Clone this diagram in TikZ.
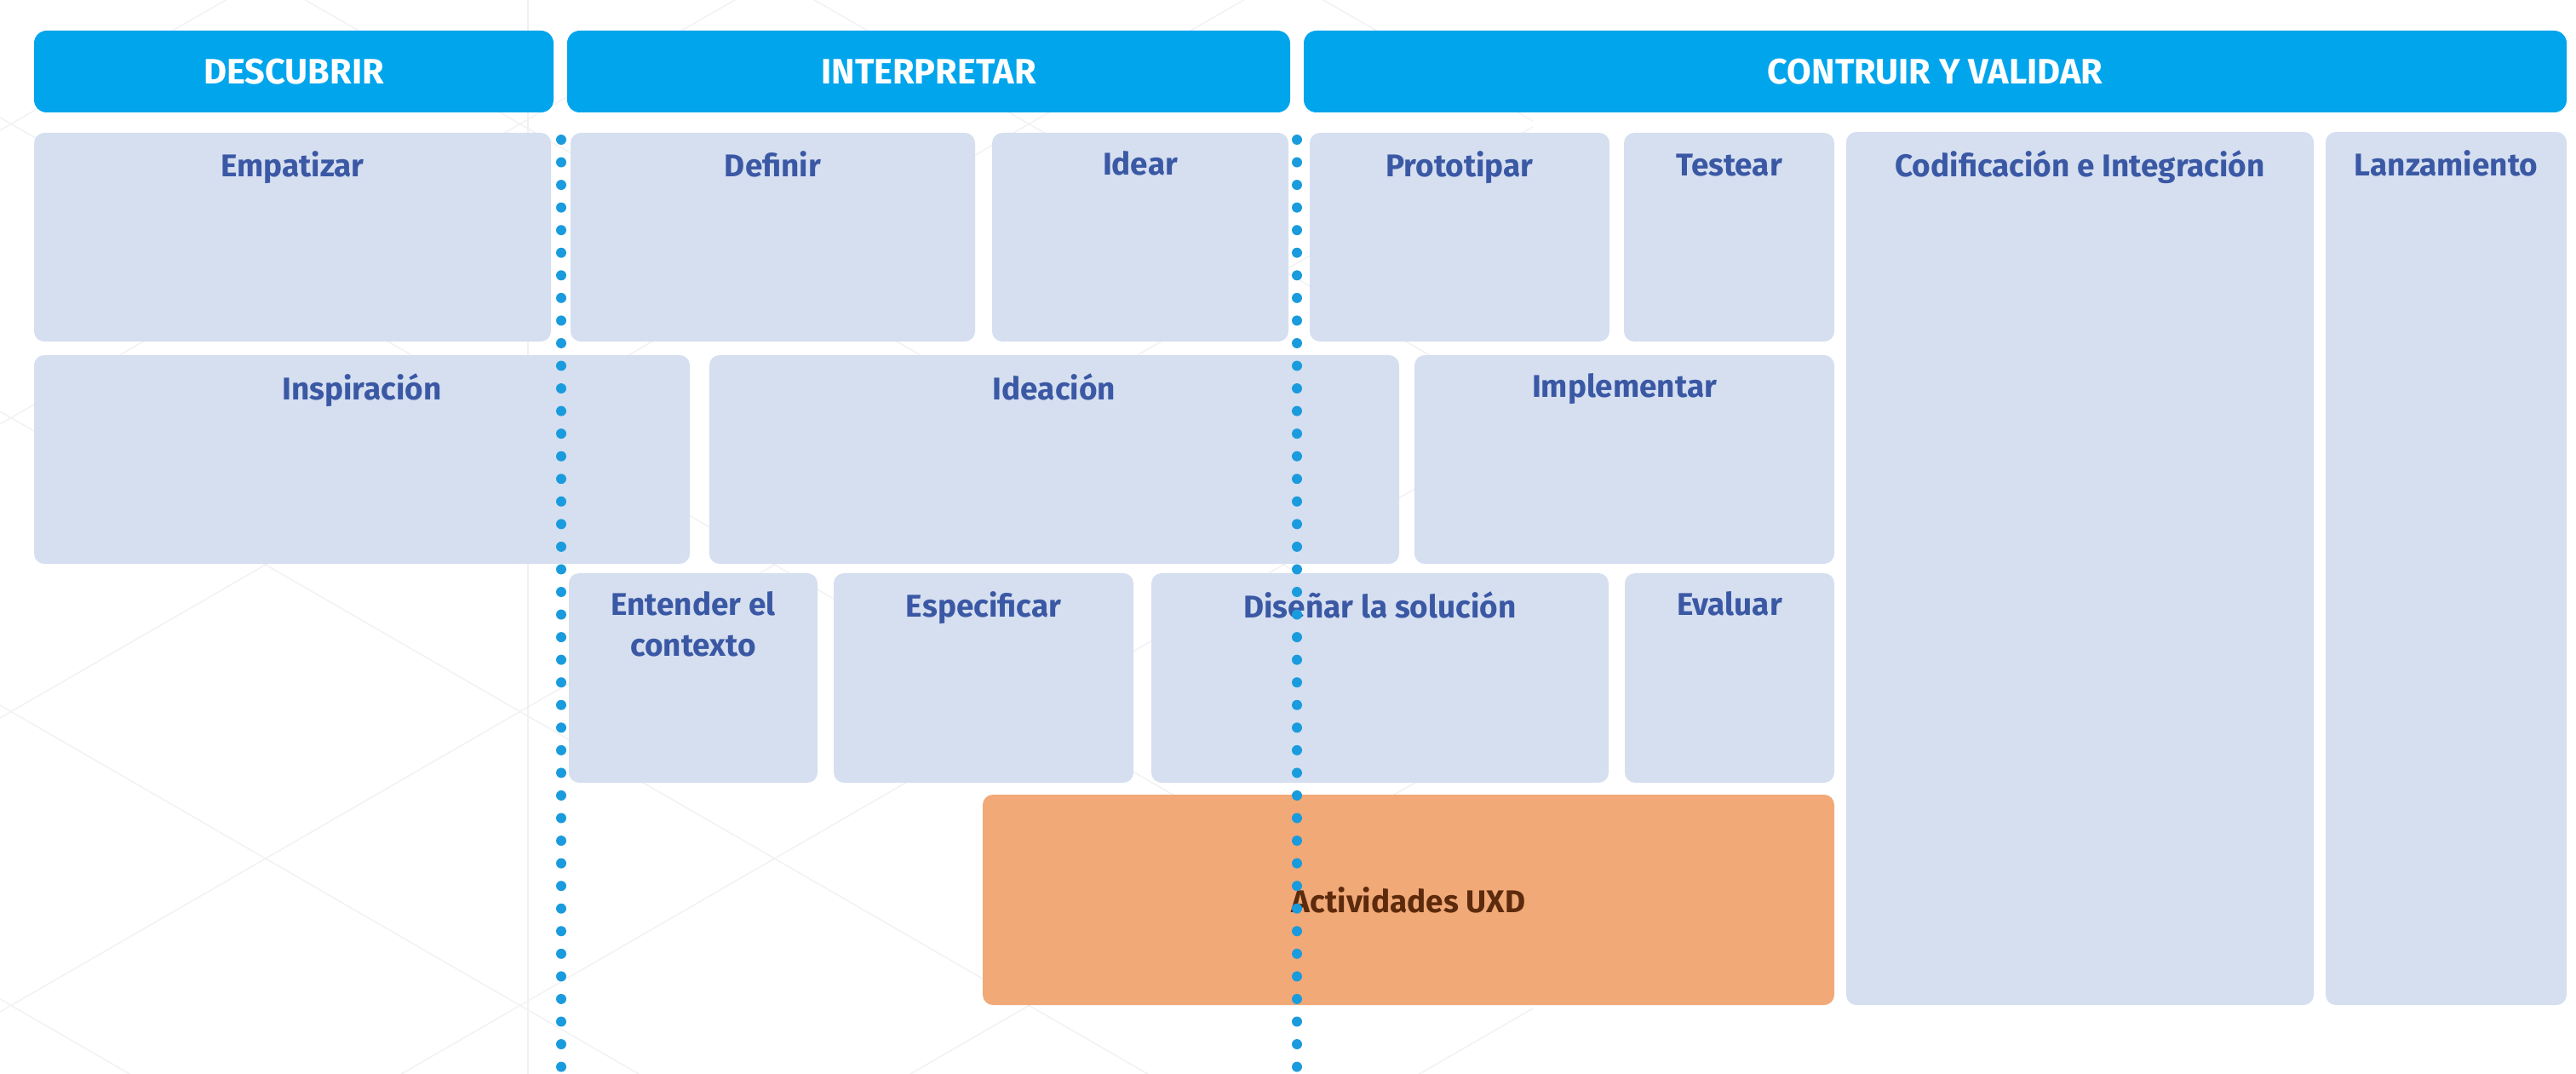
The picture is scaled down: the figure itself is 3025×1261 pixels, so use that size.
\documentclass[tikz,border=0pt]{standalone}
\usepackage{fontspec}
\setmainfont{Fira Sans}

\definecolor{phaseblue}{HTML}{00A5EC}
\definecolor{cardfill}{HTML}{D5DFF0}
\definecolor{cardtext}{HTML}{3A58A4}
\definecolor{uxdfill}{HTML}{F1A977}
\definecolor{uxdtext}{HTML}{5C2A0C}
\definecolor{dotblue}{HTML}{1A9BDD}
\definecolor{wireline}{HTML}{F1F1F3}

\tikzset{
  phase/.style = {fill = phaseblue, rounded corners = 4.2pt},
  phaselabel/.style = {text = white, inner sep = 0pt,
    font = \bfseries\fontsize{11.8}{14}\selectfont},
  card/.style = {fill = cardfill, rounded corners = 3.4pt},
  cardlabel/.style = {anchor = north, inner sep = 0pt, align = center,
    text = cardtext, font = \bfseries\fontsize{10.5}{13.7}\selectfont},
  uxd/.style = {fill = uxdfill, rounded corners = 3.4pt},
  wire/.style = {draw = wireline, line width = 0.4pt},
  cutline/.style = {draw = dotblue, line width = 3.4pt, line cap = round,
    dash pattern = on 0pt off 7.55pt}
}

\begin{document}
\begin{tikzpicture}[x = 0.01cm, y = -0.01cm]
  % frame
  % -----
  \useasboundingbox (0, 0) rectangle (3025, 1261);

  % wire background
  % ---------------
  \begin{scope}
    \clip (0, 0) rectangle (1800, 1261);
    \foreach \b in {-897, -552, -207, 138, 483, 828, 1173}
      \draw [wire] (0, \b) -- (1800, \b + 1039);
    \foreach \b in {153, 498, 843, 1188, 1533, 1878, 2223}
      \draw [wire] (0, \b) -- (1800, \b - 1039);
    \draw [wire] (620, 0) -- (620, 1261);
  \end{scope}

  % phases
  % ------
  \fill [phase] (40, 36) rectangle (650, 132);
  \node [phaselabel] (descubrir) at (345, 84) {DESCUBRIR};
  \fill [phase] (666, 36) rectangle (1515, 132);
  \node [phaselabel] (interpretar) at (1090.5, 84) {INTERPRETAR};
  \fill [phase] (1531, 36) rectangle (3014, 132);
  \node [phaselabel] (construir) at (2272.5, 84) {CONTRUIR Y VALIDAR};

  % first row
  % ---------
  \fill [card] (40, 156) rectangle (647, 401);
  \node [cardlabel] (empatizar) at (343.5, 177) {Empatizar};
  \fill [card] (670, 156) rectangle (1145, 401);
  \node [cardlabel] (definir) at (907.5, 177) {Definir};
  \fill [card] (1165, 156) rectangle (1513, 401);
  \node [cardlabel] (idear) at (1339, 177) {Idear};
  \fill [card] (1538, 156) rectangle (1890, 401);
  \node [cardlabel] (prototipar) at (1714, 177) {Prototipar};
  \fill [card] (1907, 156) rectangle (2154, 401);
  \node [cardlabel] (testear) at (2030.5, 180) {Testear};

  % tall columns
  % ------------
  \fill [card] (2168, 155) rectangle (2717, 1180);
  \node [cardlabel] (codificacion) at (2442.5, 176) {Codificación e Integración};
  \fill [card] (2731, 155) rectangle (3014, 1180);
  \node [cardlabel] (lanzamiento) at (2872.5, 176) {Lanzamiento};

  % second row
  % ----------
  \fill [card] (40, 417) rectangle (810, 662);
  \node [cardlabel] (inspiracion) at (425, 438) {Inspiración};
  \fill [card] (833, 417) rectangle (1643, 662);
  \node [cardlabel] (ideacion) at (1238, 438) {Ideación};
  \fill [card] (1661, 417) rectangle (2154, 662);
  \node [cardlabel] (implementar) at (1907.5, 438) {Implementar};

  % third row
  % ---------
  \fill [card] (668, 673) rectangle (960, 919);
  \node [cardlabel] (entender) at (814, 694) {Entender el\\contexto};
  \fill [card] (979, 673) rectangle (1331, 919);
  \node [cardlabel] (especificar) at (1155, 694) {Especificar};
  \fill [card] (1352, 673) rectangle (1889, 919);
  \node [cardlabel] (disenar) at (1620.5, 694) {Diseñar la solución};
  \fill [card] (1908, 673) rectangle (2154, 919);
  \node [cardlabel] (evaluar) at (2031, 694) {Evaluar};

  % activities
  % ----------
  \fill [uxd] (1154, 933) rectangle (2154, 1180);
  \node [cardlabel, anchor = center, text = uxdtext] (actividades) at (1654, 1057) {Actividades UXD};

  % phase cuts
  % ----------
  \coordinate (cutAtop) at (659, 164);
  \coordinate (cutAbot) at (659, 1261);
  \coordinate (cutBtop) at (1523, 164);
  \coordinate (cutBbot) at (1523, 1261);
  \draw [cutline] (cutAtop) -- (cutAbot);
  \draw [cutline] (cutBtop) -- (cutBbot);
\end{tikzpicture}
\end{document}
